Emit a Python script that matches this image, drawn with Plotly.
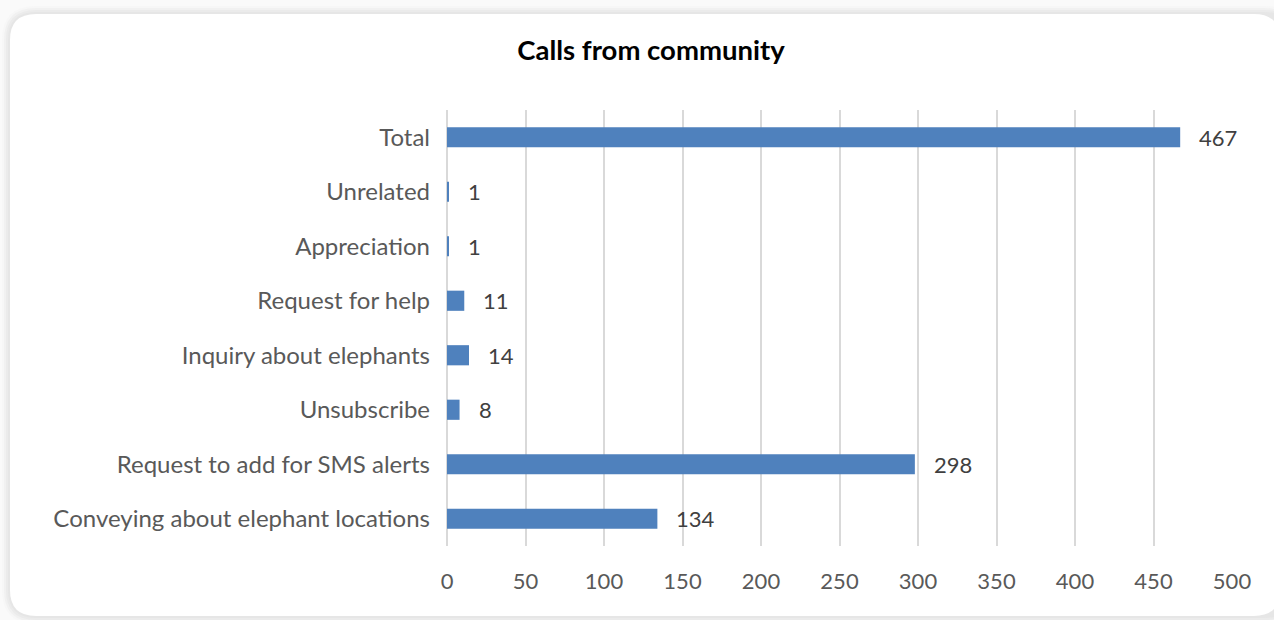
import plotly.graph_objects as go

categories = ["Conveying about elephant locations", "Request to add for SMS alerts", "Unsubscribe",
              "Inquiry about elephants", "Request for help", "Appreciation", "Unrelated", "Total"]
values = [134, 298, 8, 14, 11, 1, 1, 467]
x_ticks = [0, 50, 100, 150, 200, 250, 300, 350, 400, 450, 500]

W, H = 1274, 620
L, R, T, B = 447, 42, 110, 74
pw, ph = W - L - R, H - T - B

def px(x):
    return (x - L) / pw

def py(y):
    return (H - B - y) / ph

def rounded(x0, y0, x1, y1, r):
    return (f"M {px(x0 + r)},{py(y0)} L {px(x1 - r)},{py(y0)} Q {px(x1)},{py(y0)} {px(x1)},{py(y0 + r)} "
            f"L {px(x1)},{py(y1 - r)} Q {px(x1)},{py(y1)} {px(x1 - r)},{py(y1)} "
            f"L {px(x0 + r)},{py(y1)} Q {px(x0)},{py(y1)} {px(x0)},{py(y1 - r)} "
            f"L {px(x0)},{py(y0 + r)} Q {px(x0)},{py(y0)} {px(x0 + r)},{py(y0)} Z")

shapes = []
shadow_cols = ["#f7f7f7", "#f1f1f1", "#ebebeb", "#e6e6e6"]
for i, c in enumerate(shadow_cols):
    d = 8 - 2 * i
    shapes.append(dict(type="path", xref="paper", yref="paper", layer="below",
                       path=rounded(10 - d, 14 - d, 1290 + d, 616 + d, 26 + d),
                       fillcolor=c, line=dict(width=0)))
shapes.append(dict(type="path", xref="paper", yref="paper", layer="below",
                   path=rounded(10, 14, 1280, 616, 26),
                   fillcolor="white", line=dict(width=0)))

fig = go.Figure()
fig.add_trace(go.Bar(y=categories, x=values, orientation="h",
                     marker=dict(color="#4f81bd", line=dict(width=0)), width=0.37))

annotations = [dict(x=v, y=c, text=str(v), xref="x", yref="y", showarrow=False,
                    xanchor="left", xshift=17, font=dict(family="Lato", size=22, color="#404040"))
               for c, v in zip(categories, values)]

fig.update_layout(
    width=W, height=H, margin=dict(l=L, r=R, t=T, b=B, autoexpand=False),
    paper_bgcolor="#fafafa", plot_bgcolor="rgba(0,0,0,0)",
    title=dict(text="<b>Calls from community</b>", x=651 / W, xanchor="center", y=1 - 50 / H, yanchor="middle",
               font=dict(family="Lato", size=27.5, color="black")),
    shapes=shapes, annotations=annotations, showlegend=False,
    bargap=0.63,
    xaxis=dict(range=[0, 500], tickvals=x_ticks, showgrid=True, gridcolor="#d9d9d9", gridwidth=1.5,
               zeroline=True, zerolinecolor="#d9d9d9", zerolinewidth=1.5, showline=False,
               ticklabelstandoff=20, tickfont=dict(family="Lato", size=22, color="#595959")),
    yaxis=dict(categoryorder="array", categoryarray=categories, showgrid=False, showline=False,
               ticklabelstandoff=16, tickfont=dict(family="Lato", size=24, color="#595959")),
)

fig.write_html("out.html", config={"displayModeBar": False},
               post_script="document.body.style.margin='0';document.body.style.padding='0';")
